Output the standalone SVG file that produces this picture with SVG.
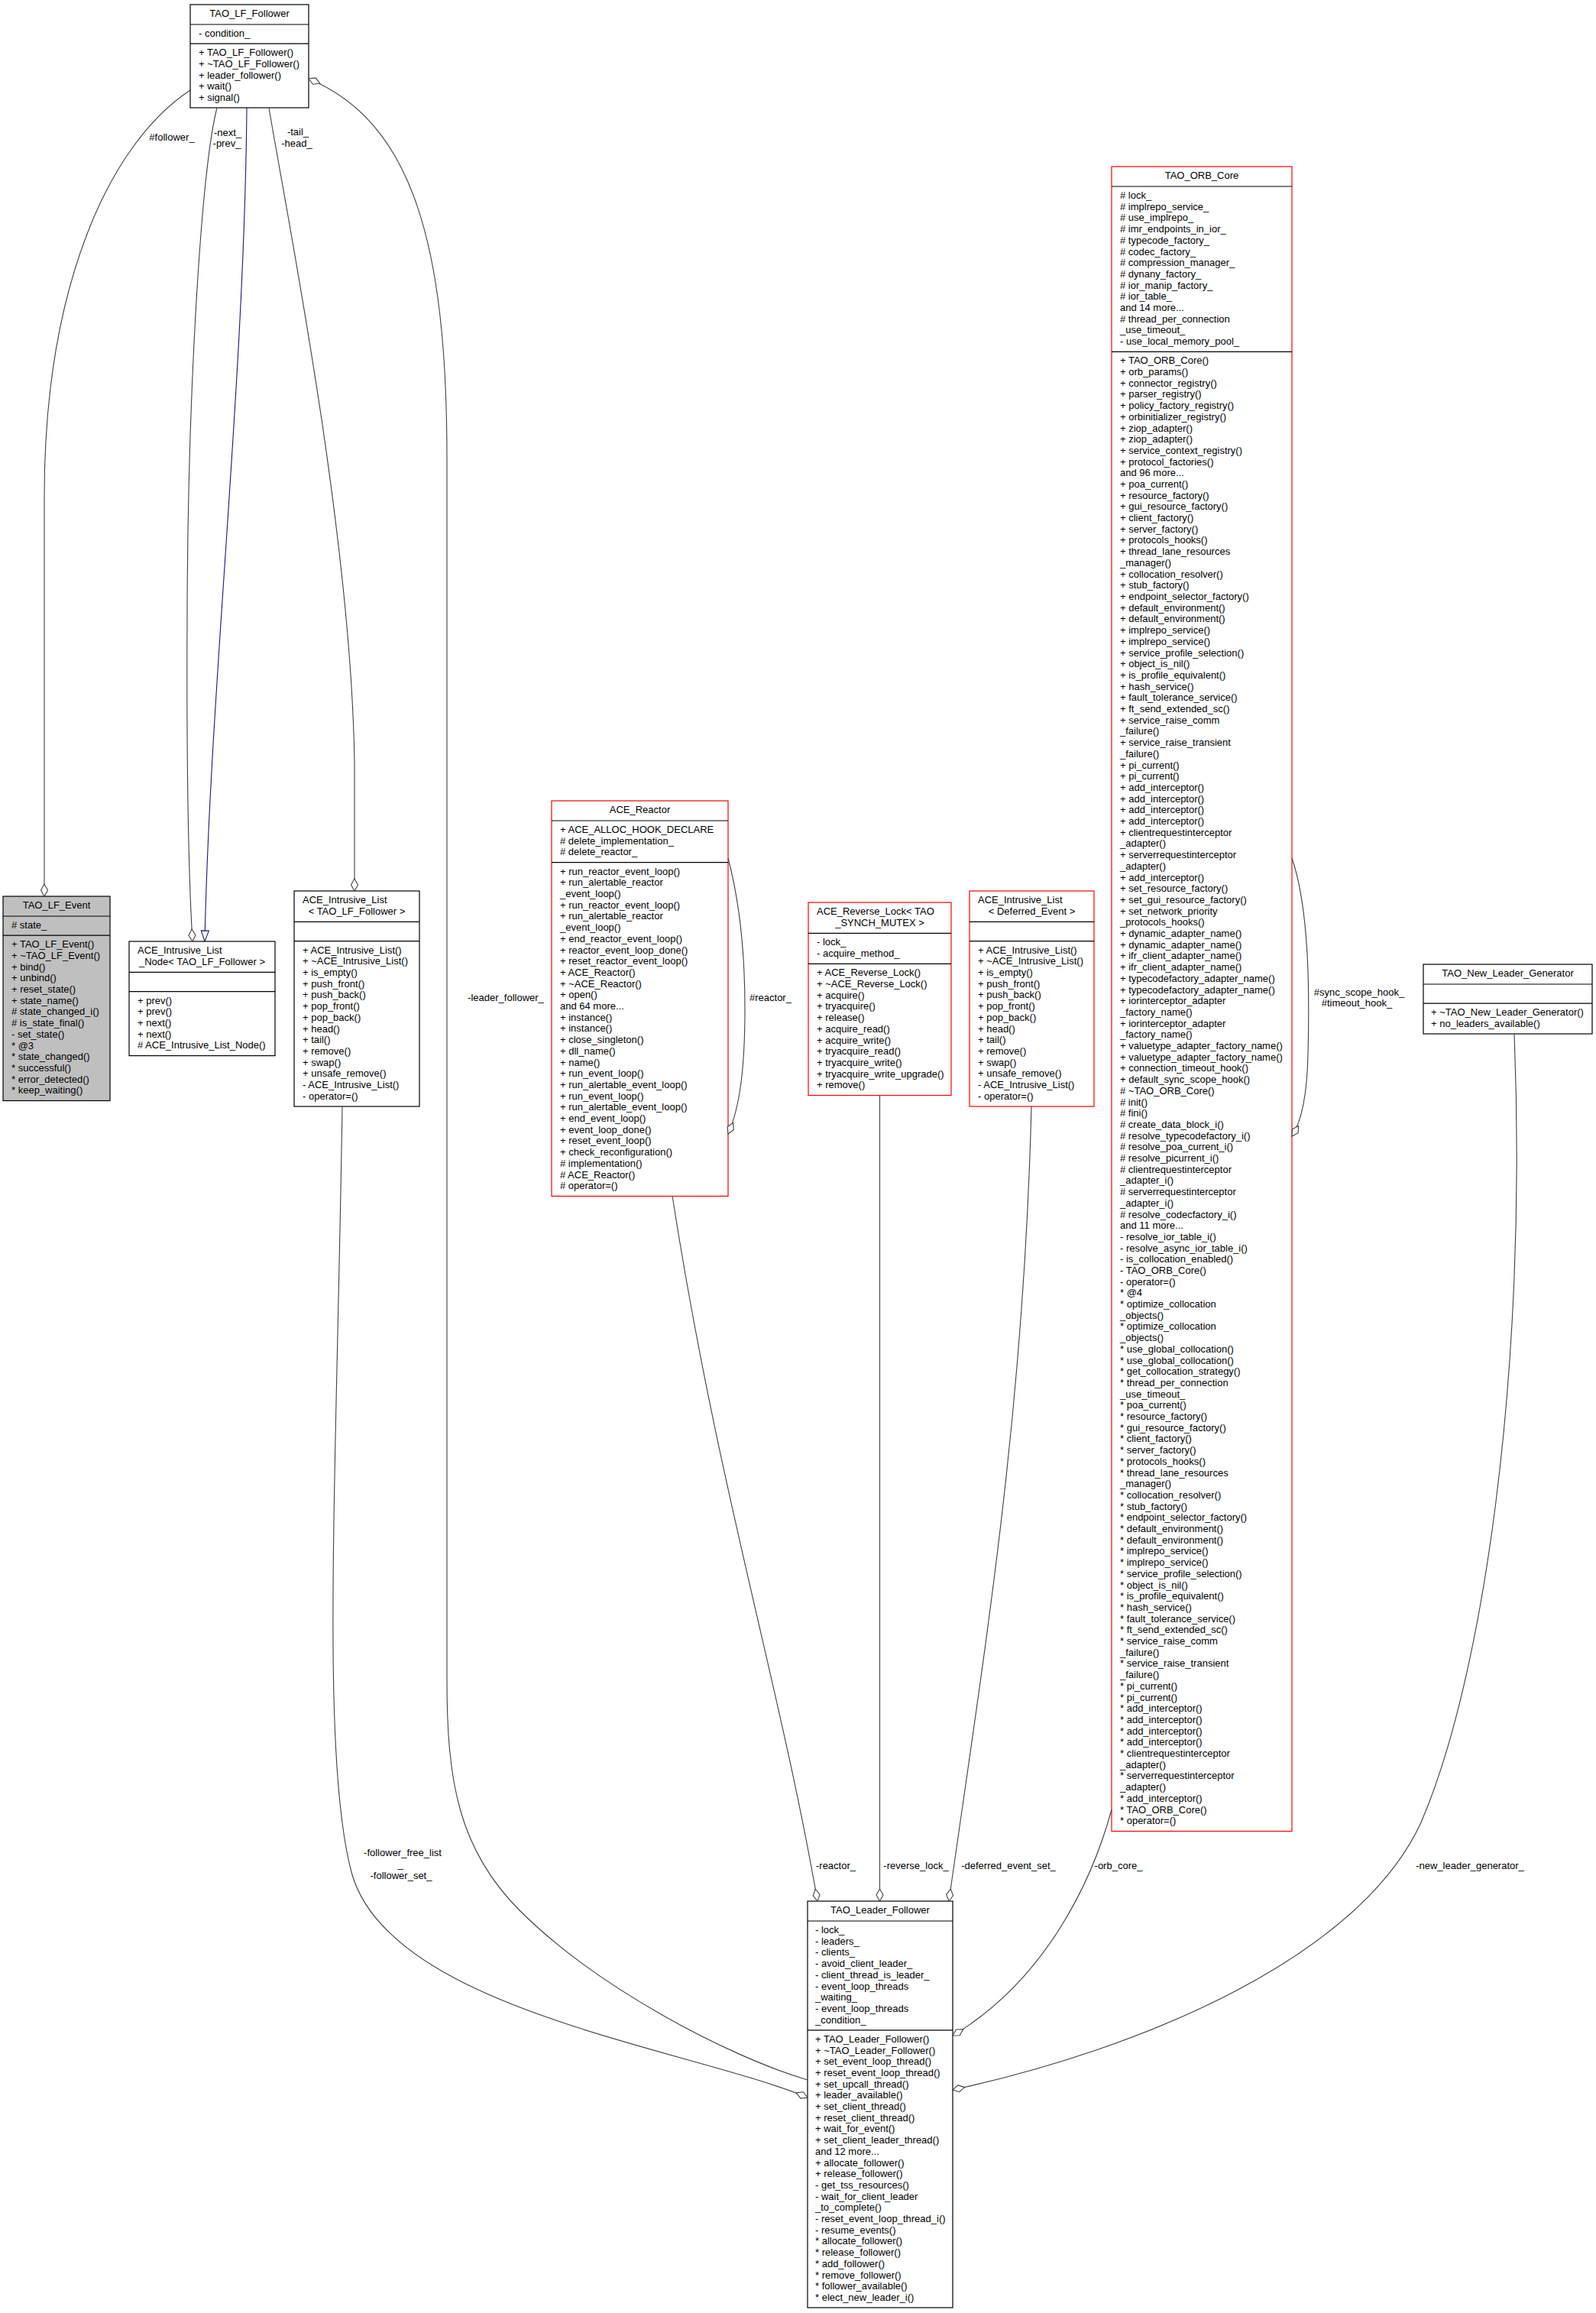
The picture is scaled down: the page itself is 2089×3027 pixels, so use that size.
<svg xmlns="http://www.w3.org/2000/svg" width="2089" height="3027" viewBox="0 0 2089 3027">
<style>
.t{font-family:"Liberation Sans",Arial,Helvetica,sans-serif;font-size:13px;fill:#000}
.c{text-anchor:middle}
.bx{fill:#fff;stroke:#000;stroke-width:1.2}
.gr{fill:#bfbfbf}
.rd{stroke:#ff0000}
.ln{fill:none;stroke:#000;stroke-width:1.2}
.e{fill:none;stroke:#404040;stroke-width:1.1}
.inh{fill:none;stroke:#191970;stroke-width:1.1}
</style>
<defs>
<marker id="dia" viewBox="0 0 18 12" markerWidth="18" markerHeight="12" refX="17" refY="6" orient="auto" markerUnits="userSpaceOnUse"><path d="M1,6 L9,1.5 L17,6 L9,10.5 Z" fill="#fff" stroke="#404040" stroke-width="1.1"/></marker>
<marker id="tri" viewBox="0 0 16 12" markerWidth="16" markerHeight="12" refX="15" refY="6" orient="auto" markerUnits="userSpaceOnUse"><path d="M1,1 L15,6 L1,11 Z" fill="#fff" stroke="#191970" stroke-width="1.1"/></marker>
</defs>
<rect x="0" y="0" width="2089" height="3027" fill="#fff"/>

<g id="TAO_LF_Follower">
<rect class="bx" x="249" y="6" width="155" height="135"/>
<path class="ln" d="M249,32H404M249,57.2H404"/>
<text class="t c" x="326.5" y="22">TAO_LF_Follower</text>
<text class="t" x="260" y="48">- condition_</text>
<text class="t" y="73.2"><tspan x="260">+ TAO_LF_Follower()</tspan><tspan x="260" dy="14.7">+ ~TAO_LF_Follower()</tspan><tspan x="260" dy="14.7">+ leader_follower()</tspan><tspan x="260" dy="14.7">+ wait()</tspan><tspan x="260" dy="14.7">+ signal()</tspan></text>
</g>

<g id="TAO_LF_Event">
<rect class="bx gr" x="4" y="1173" width="140" height="267.5"/>
<path class="ln" d="M4,1199H144M4,1224.2H144"/>
<text class="t c" x="74" y="1189">TAO_LF_Event</text>
<text class="t" x="15" y="1215">#&#160;state_</text>
<text class="t" y="1240.2"><tspan x="15">+ TAO_LF_Event()</tspan><tspan x="15" dy="14.7">+ ~TAO_LF_Event()</tspan><tspan x="15" dy="14.7">+ bind()</tspan><tspan x="15" dy="14.7">+ unbind()</tspan><tspan x="15" dy="14.7">+ reset_state()</tspan><tspan x="15" dy="14.7">+ state_name()</tspan><tspan x="15" dy="14.7"># state_changed_i()</tspan><tspan x="15" dy="14.7"># is_state_final()</tspan><tspan x="15" dy="14.7">- set_state()</tspan><tspan x="15" dy="14.7">* @3</tspan><tspan x="15" dy="14.7">* state_changed()</tspan><tspan x="15" dy="14.7">* successful()</tspan><tspan x="15" dy="14.7">* error_detected()</tspan><tspan x="15" dy="14.7">* keep_waiting()</tspan></text>
</g>

<g id="ACE_Intrusive_List_Node_TAO_LF_Follower">
<rect class="bx" x="169" y="1232" width="191" height="149.6"/>
<path class="ln" d="M169,1272.4H360M169,1297.6H360"/>
<text class="t" x="180" y="1248">ACE_Intrusive_List</text>
<text class="t c" x="264.5" y="1262.7">_Node&lt; TAO_LF_Follower &gt;</text>
<text class="t" y="1313.6"><tspan x="180">+ prev()</tspan><tspan x="180" dy="14.7">+ prev()</tspan><tspan x="180" dy="14.7">+ next()</tspan><tspan x="180" dy="14.7">+ next()</tspan><tspan x="180" dy="14.7"># ACE_Intrusive_List_Node()</tspan></text>
</g>

<g id="ACE_Intrusive_List_TAO_LF_Follower">
<rect class="bx" x="385" y="1166" width="164" height="282"/>
<path class="ln" d="M385,1206.4H549M385,1231.6H549"/>
<text class="t" x="396" y="1182">ACE_Intrusive_List</text>
<text class="t c" x="467" y="1196.7">&lt; TAO_LF_Follower &gt;</text>
<text class="t" y="1247.6"><tspan x="396">+ ACE_Intrusive_List()</tspan><tspan x="396" dy="14.7">+ ~ACE_Intrusive_List()</tspan><tspan x="396" dy="14.7">+ is_empty()</tspan><tspan x="396" dy="14.7">+ push_front()</tspan><tspan x="396" dy="14.7">+ push_back()</tspan><tspan x="396" dy="14.7">+ pop_front()</tspan><tspan x="396" dy="14.7">+ pop_back()</tspan><tspan x="396" dy="14.7">+ head()</tspan><tspan x="396" dy="14.7">+ tail()</tspan><tspan x="396" dy="14.7">+ remove()</tspan><tspan x="396" dy="14.7">+ swap()</tspan><tspan x="396" dy="14.7">+ unsafe_remove()</tspan><tspan x="396" dy="14.7">- ACE_Intrusive_List()</tspan><tspan x="396" dy="14.7">- operator=()</tspan></text>
</g>

<g id="ACE_Reactor">
<rect class="bx rd" x="722" y="1048" width="231" height="517.4"/>
<path class="ln rd" d="M722,1074H953M722,1128.6H953"/>
<text class="t c" x="837.5" y="1064">ACE_Reactor</text>
<text class="t" y="1090"><tspan x="733">+ ACE_ALLOC_HOOK_DECLARE</tspan><tspan x="733" dy="14.7"># delete_implementation_</tspan><tspan x="733" dy="14.7"># delete_reactor_</tspan></text>
<text class="t" y="1144.6"><tspan x="733">+ run_reactor_event_loop()</tspan><tspan x="733" dy="14.7">+ run_alertable_reactor</tspan><tspan x="733" dy="14.7">_event_loop()</tspan><tspan x="733" dy="14.7">+ run_reactor_event_loop()</tspan><tspan x="733" dy="14.7">+ run_alertable_reactor</tspan><tspan x="733" dy="14.7">_event_loop()</tspan><tspan x="733" dy="14.7">+ end_reactor_event_loop()</tspan><tspan x="733" dy="14.7">+ reactor_event_loop_done()</tspan><tspan x="733" dy="14.7">+ reset_reactor_event_loop()</tspan><tspan x="733" dy="14.7">+ ACE_Reactor()</tspan><tspan x="733" dy="14.7">+ ~ACE_Reactor()</tspan><tspan x="733" dy="14.7">+ open()</tspan><tspan x="733" dy="14.7">and 64 more...</tspan><tspan x="733" dy="14.7">+ instance()</tspan><tspan x="733" dy="14.7">+ instance()</tspan><tspan x="733" dy="14.7">+ close_singleton()</tspan><tspan x="733" dy="14.7">+ dll_name()</tspan><tspan x="733" dy="14.7">+ name()</tspan><tspan x="733" dy="14.7">+ run_event_loop()</tspan><tspan x="733" dy="14.7">+ run_alertable_event_loop()</tspan><tspan x="733" dy="14.7">+ run_event_loop()</tspan><tspan x="733" dy="14.7">+ run_alertable_event_loop()</tspan><tspan x="733" dy="14.7">+ end_event_loop()</tspan><tspan x="733" dy="14.7">+ event_loop_done()</tspan><tspan x="733" dy="14.7">+ reset_event_loop()</tspan><tspan x="733" dy="14.7">+ check_reconfiguration()</tspan><tspan x="733" dy="14.7"># implementation()</tspan><tspan x="733" dy="14.7"># ACE_Reactor()</tspan><tspan x="733" dy="14.7"># operator=()</tspan></text>
</g>

<g id="ACE_Reverse_Lock_TAO_SYNCH_MUTEX">
<rect class="bx rd" x="1058" y="1181" width="187" height="252.5"/>
<path class="ln rd" d="M1058,1221.4H1245M1058,1261.3H1245"/>
<text class="t" x="1069" y="1197">ACE_Reverse_Lock&lt; TAO</text>
<text class="t c" x="1151.5" y="1211.7">_SYNCH_MUTEX &gt;</text>
<text class="t" y="1237.4"><tspan x="1069">- lock_</tspan><tspan x="1069" dy="14.7">- acquire_method_</tspan></text>
<text class="t" y="1277.3"><tspan x="1069">+ ACE_Reverse_Lock()</tspan><tspan x="1069" dy="14.7">+ ~ACE_Reverse_Lock()</tspan><tspan x="1069" dy="14.7">+ acquire()</tspan><tspan x="1069" dy="14.7">+ tryacquire()</tspan><tspan x="1069" dy="14.7">+ release()</tspan><tspan x="1069" dy="14.7">+ acquire_read()</tspan><tspan x="1069" dy="14.7">+ acquire_write()</tspan><tspan x="1069" dy="14.7">+ tryacquire_read()</tspan><tspan x="1069" dy="14.7">+ tryacquire_write()</tspan><tspan x="1069" dy="14.7">+ tryacquire_write_upgrade()</tspan><tspan x="1069" dy="14.7">+ remove()</tspan></text>
</g>

<g id="ACE_Intrusive_List_Deferred_Event">
<rect class="bx rd" x="1269" y="1166" width="163" height="282"/>
<path class="ln rd" d="M1269,1206.4H1432M1269,1231.6H1432"/>
<text class="t" x="1280" y="1182">ACE_Intrusive_List</text>
<text class="t c" x="1350.5" y="1196.7">&lt; Deferred_Event &gt;</text>
<text class="t" y="1247.6"><tspan x="1280">+ ACE_Intrusive_List()</tspan><tspan x="1280" dy="14.7">+ ~ACE_Intrusive_List()</tspan><tspan x="1280" dy="14.7">+ is_empty()</tspan><tspan x="1280" dy="14.7">+ push_front()</tspan><tspan x="1280" dy="14.7">+ push_back()</tspan><tspan x="1280" dy="14.7">+ pop_front()</tspan><tspan x="1280" dy="14.7">+ pop_back()</tspan><tspan x="1280" dy="14.7">+ head()</tspan><tspan x="1280" dy="14.7">+ tail()</tspan><tspan x="1280" dy="14.7">+ remove()</tspan><tspan x="1280" dy="14.7">+ swap()</tspan><tspan x="1280" dy="14.7">+ unsafe_remove()</tspan><tspan x="1280" dy="14.7">- ACE_Intrusive_List()</tspan><tspan x="1280" dy="14.7">- operator=()</tspan></text>
</g>

<g id="TAO_ORB_Core">
<rect class="bx rd" x="1455" y="218" width="236" height="2178.5"/>
<path class="ln rd" d="M1455,244H1691M1455,460.3H1691"/>
<text class="t c" x="1573" y="234">TAO_ORB_Core</text>
<text class="t" y="260"><tspan x="1466"># lock_</tspan><tspan x="1466" dy="14.7"># implrepo_service_</tspan><tspan x="1466" dy="14.7"># use_implrepo_</tspan><tspan x="1466" dy="14.7"># imr_endpoints_in_ior_</tspan><tspan x="1466" dy="14.7"># typecode_factory_</tspan><tspan x="1466" dy="14.7"># codec_factory_</tspan><tspan x="1466" dy="14.7"># compression_manager_</tspan><tspan x="1466" dy="14.7"># dynany_factory_</tspan><tspan x="1466" dy="14.7"># ior_manip_factory_</tspan><tspan x="1466" dy="14.7"># ior_table_</tspan><tspan x="1466" dy="14.7">and 14 more...</tspan><tspan x="1466" dy="14.7"># thread_per_connection</tspan><tspan x="1466" dy="14.7">_use_timeout_</tspan><tspan x="1466" dy="14.7">- use_local_memory_pool_</tspan></text>
<text class="t" y="476.3"><tspan x="1466">+ TAO_ORB_Core()</tspan><tspan x="1466" dy="14.7">+ orb_params()</tspan><tspan x="1466" dy="14.7">+ connector_registry()</tspan><tspan x="1466" dy="14.7">+ parser_registry()</tspan><tspan x="1466" dy="14.7">+ policy_factory_registry()</tspan><tspan x="1466" dy="14.7">+ orbinitializer_registry()</tspan><tspan x="1466" dy="14.7">+ ziop_adapter()</tspan><tspan x="1466" dy="14.7">+ ziop_adapter()</tspan><tspan x="1466" dy="14.7">+ service_context_registry()</tspan><tspan x="1466" dy="14.7">+ protocol_factories()</tspan><tspan x="1466" dy="14.7">and 96 more...</tspan><tspan x="1466" dy="14.7">+ poa_current()</tspan><tspan x="1466" dy="14.7">+ resource_factory()</tspan><tspan x="1466" dy="14.7">+ gui_resource_factory()</tspan><tspan x="1466" dy="14.7">+ client_factory()</tspan><tspan x="1466" dy="14.7">+ server_factory()</tspan><tspan x="1466" dy="14.7">+ protocols_hooks()</tspan><tspan x="1466" dy="14.7">+ thread_lane_resources</tspan><tspan x="1466" dy="14.7">_manager()</tspan><tspan x="1466" dy="14.7">+ collocation_resolver()</tspan><tspan x="1466" dy="14.7">+ stub_factory()</tspan><tspan x="1466" dy="14.7">+ endpoint_selector_factory()</tspan><tspan x="1466" dy="14.7">+ default_environment()</tspan><tspan x="1466" dy="14.7">+ default_environment()</tspan><tspan x="1466" dy="14.7">+ implrepo_service()</tspan><tspan x="1466" dy="14.7">+ implrepo_service()</tspan><tspan x="1466" dy="14.7">+ service_profile_selection()</tspan><tspan x="1466" dy="14.7">+ object_is_nil()</tspan><tspan x="1466" dy="14.7">+ is_profile_equivalent()</tspan><tspan x="1466" dy="14.7">+ hash_service()</tspan><tspan x="1466" dy="14.7">+ fault_tolerance_service()</tspan><tspan x="1466" dy="14.7">+ ft_send_extended_sc()</tspan><tspan x="1466" dy="14.7">+ service_raise_comm</tspan><tspan x="1466" dy="14.7">_failure()</tspan><tspan x="1466" dy="14.7">+ service_raise_transient</tspan><tspan x="1466" dy="14.7">_failure()</tspan><tspan x="1466" dy="14.7">+ pi_current()</tspan><tspan x="1466" dy="14.7">+ pi_current()</tspan><tspan x="1466" dy="14.7">+ add_interceptor()</tspan><tspan x="1466" dy="14.7">+ add_interceptor()</tspan><tspan x="1466" dy="14.7">+ add_interceptor()</tspan><tspan x="1466" dy="14.7">+ add_interceptor()</tspan><tspan x="1466" dy="14.7">+ clientrequestinterceptor</tspan><tspan x="1466" dy="14.7">_adapter()</tspan><tspan x="1466" dy="14.7">+ serverrequestinterceptor</tspan><tspan x="1466" dy="14.7">_adapter()</tspan><tspan x="1466" dy="14.7">+ add_interceptor()</tspan><tspan x="1466" dy="14.7">+ set_resource_factory()</tspan><tspan x="1466" dy="14.7">+ set_gui_resource_factory()</tspan><tspan x="1466" dy="14.7">+ set_network_priority</tspan><tspan x="1466" dy="14.7">_protocols_hooks()</tspan><tspan x="1466" dy="14.7">+ dynamic_adapter_name()</tspan><tspan x="1466" dy="14.7">+ dynamic_adapter_name()</tspan><tspan x="1466" dy="14.7">+ ifr_client_adapter_name()</tspan><tspan x="1466" dy="14.7">+ ifr_client_adapter_name()</tspan><tspan x="1466" dy="14.7">+ typecodefactory_adapter_name()</tspan><tspan x="1466" dy="14.7">+ typecodefactory_adapter_name()</tspan><tspan x="1466" dy="14.7">+ iorinterceptor_adapter</tspan><tspan x="1466" dy="14.7">_factory_name()</tspan><tspan x="1466" dy="14.7">+ iorinterceptor_adapter</tspan><tspan x="1466" dy="14.7">_factory_name()</tspan><tspan x="1466" dy="14.7">+ valuetype_adapter_factory_name()</tspan><tspan x="1466" dy="14.7">+ valuetype_adapter_factory_name()</tspan><tspan x="1466" dy="14.7">+ connection_timeout_hook()</tspan><tspan x="1466" dy="14.7">+ default_sync_scope_hook()</tspan><tspan x="1466" dy="14.7"># ~TAO_ORB_Core()</tspan><tspan x="1466" dy="14.7"># init()</tspan><tspan x="1466" dy="14.7"># fini()</tspan><tspan x="1466" dy="14.7"># create_data_block_i()</tspan><tspan x="1466" dy="14.7"># resolve_typecodefactory_i()</tspan><tspan x="1466" dy="14.7"># resolve_poa_current_i()</tspan><tspan x="1466" dy="14.7"># resolve_picurrent_i()</tspan><tspan x="1466" dy="14.7"># clientrequestinterceptor</tspan><tspan x="1466" dy="14.7">_adapter_i()</tspan><tspan x="1466" dy="14.7"># serverrequestinterceptor</tspan><tspan x="1466" dy="14.7">_adapter_i()</tspan><tspan x="1466" dy="14.7"># resolve_codecfactory_i()</tspan><tspan x="1466" dy="14.7">and 11 more...</tspan><tspan x="1466" dy="14.7">- resolve_ior_table_i()</tspan><tspan x="1466" dy="14.7">- resolve_async_ior_table_i()</tspan><tspan x="1466" dy="14.7">- is_collocation_enabled()</tspan><tspan x="1466" dy="14.7">- TAO_ORB_Core()</tspan><tspan x="1466" dy="14.7">- operator=()</tspan><tspan x="1466" dy="14.7">* @4</tspan><tspan x="1466" dy="14.7">* optimize_collocation</tspan><tspan x="1466" dy="14.7">_objects()</tspan><tspan x="1466" dy="14.7">* optimize_collocation</tspan><tspan x="1466" dy="14.7">_objects()</tspan><tspan x="1466" dy="14.7">* use_global_collocation()</tspan><tspan x="1466" dy="14.7">* use_global_collocation()</tspan><tspan x="1466" dy="14.7">* get_collocation_strategy()</tspan><tspan x="1466" dy="14.7">* thread_per_connection</tspan><tspan x="1466" dy="14.7">_use_timeout_</tspan><tspan x="1466" dy="14.7">* poa_current()</tspan><tspan x="1466" dy="14.7">* resource_factory()</tspan><tspan x="1466" dy="14.7">* gui_resource_factory()</tspan><tspan x="1466" dy="14.7">* client_factory()</tspan><tspan x="1466" dy="14.7">* server_factory()</tspan><tspan x="1466" dy="14.7">* protocols_hooks()</tspan><tspan x="1466" dy="14.7">* thread_lane_resources</tspan><tspan x="1466" dy="14.7">_manager()</tspan><tspan x="1466" dy="14.7">* collocation_resolver()</tspan><tspan x="1466" dy="14.7">* stub_factory()</tspan><tspan x="1466" dy="14.7">* endpoint_selector_factory()</tspan><tspan x="1466" dy="14.7">* default_environment()</tspan><tspan x="1466" dy="14.7">* default_environment()</tspan><tspan x="1466" dy="14.7">* implrepo_service()</tspan><tspan x="1466" dy="14.7">* implrepo_service()</tspan><tspan x="1466" dy="14.7">* service_profile_selection()</tspan><tspan x="1466" dy="14.7">* object_is_nil()</tspan><tspan x="1466" dy="14.7">* is_profile_equivalent()</tspan><tspan x="1466" dy="14.7">* hash_service()</tspan><tspan x="1466" dy="14.7">* fault_tolerance_service()</tspan><tspan x="1466" dy="14.7">* ft_send_extended_sc()</tspan><tspan x="1466" dy="14.7">* service_raise_comm</tspan><tspan x="1466" dy="14.7">_failure()</tspan><tspan x="1466" dy="14.7">* service_raise_transient</tspan><tspan x="1466" dy="14.7">_failure()</tspan><tspan x="1466" dy="14.7">* pi_current()</tspan><tspan x="1466" dy="14.7">* pi_current()</tspan><tspan x="1466" dy="14.7">* add_interceptor()</tspan><tspan x="1466" dy="14.7">* add_interceptor()</tspan><tspan x="1466" dy="14.7">* add_interceptor()</tspan><tspan x="1466" dy="14.7">* add_interceptor()</tspan><tspan x="1466" dy="14.7">* clientrequestinterceptor</tspan><tspan x="1466" dy="14.7">_adapter()</tspan><tspan x="1466" dy="14.7">* serverrequestinterceptor</tspan><tspan x="1466" dy="14.7">_adapter()</tspan><tspan x="1466" dy="14.7">* add_interceptor()</tspan><tspan x="1466" dy="14.7">* TAO_ORB_Core()</tspan><tspan x="1466" dy="14.7">* operator=()</tspan></text>
</g>

<g id="TAO_New_Leader_Generator">
<rect class="bx" x="1863" y="1262" width="221" height="91"/>
<path class="ln" d="M1863,1288H2084M1863,1313.2H2084"/>
<text class="t c" x="1973.5" y="1278">TAO_New_Leader_Generator</text>
<text class="t" y="1329.2"><tspan x="1873">+ ~TAO_New_Leader_Generator()</tspan><tspan x="1873" dy="14.7">+ no_leaders_available()</tspan></text>
</g>

<g id="TAO_Leader_Follower">
<rect class="bx" x="1057" y="2488" width="190" height="532"/>
<path class="ln" d="M1057,2514H1247M1057,2656.8H1247"/>
<text class="t c" x="1152" y="2504">TAO_Leader_Follower</text>
<text class="t" y="2530"><tspan x="1067">- lock_</tspan><tspan x="1067" dy="14.7">- leaders_</tspan><tspan x="1067" dy="14.7">- clients_</tspan><tspan x="1067" dy="14.7">- avoid_client_leader_</tspan><tspan x="1067" dy="14.7">- client_thread_is_leader_</tspan><tspan x="1067" dy="14.7">- event_loop_threads</tspan><tspan x="1067" dy="14.7">_waiting_</tspan><tspan x="1067" dy="14.7">- event_loop_threads</tspan><tspan x="1067" dy="14.7">_condition_</tspan></text>
<text class="t" y="2672.8"><tspan x="1067">+ TAO_Leader_Follower()</tspan><tspan x="1067" dy="14.7">+ ~TAO_Leader_Follower()</tspan><tspan x="1067" dy="14.7">+ set_event_loop_thread()</tspan><tspan x="1067" dy="14.7">+ reset_event_loop_thread()</tspan><tspan x="1067" dy="14.7">+ set_upcall_thread()</tspan><tspan x="1067" dy="14.7">+ leader_available()</tspan><tspan x="1067" dy="14.7">+ set_client_thread()</tspan><tspan x="1067" dy="14.7">+ reset_client_thread()</tspan><tspan x="1067" dy="14.7">+ wait_for_event()</tspan><tspan x="1067" dy="14.7">+ set_client_leader_thread()</tspan><tspan x="1067" dy="14.7">and 12 more...</tspan><tspan x="1067" dy="14.7">+ allocate_follower()</tspan><tspan x="1067" dy="14.7">+ release_follower()</tspan><tspan x="1067" dy="14.7">- get_tss_resources()</tspan><tspan x="1067" dy="14.7">- wait_for_client_leader</tspan><tspan x="1067" dy="14.7">_to_complete()</tspan><tspan x="1067" dy="14.7">- reset_event_loop_thread_i()</tspan><tspan x="1067" dy="14.7">- resume_events()</tspan><tspan x="1067" dy="14.7">* allocate_follower()</tspan><tspan x="1067" dy="14.7">* release_follower()</tspan><tspan x="1067" dy="14.7">* add_follower()</tspan><tspan x="1067" dy="14.7">* remove_follower()</tspan><tspan x="1067" dy="14.7">* follower_available()</tspan><tspan x="1067" dy="14.7">* elect_new_leader_i()</tspan></text>
</g>

<g id="connectors">
<path class="e" marker-end="url(#dia)" d="M249,118 C140,190 58,380 58,650 L58,1173"/>
<text class="t c" x="225" y="184">#follower_</text>
<path class="e" marker-end="url(#dia)" d="M284,141 C264,220 246,500 245,800 C244,1000 247,1150 252,1232"/>
<text class="t c" x="298" y="177.5">-next_</text>
<text class="t c" x="297" y="192">-prev_</text>
<path class="inh" marker-end="url(#tri)" d="M323,141 C320,500 275,900 268,1232"/>
<path class="e" marker-end="url(#dia)" d="M352,141 C375,280 460,700 464,1000 L464,1166"/>
<text class="t c" x="390" y="177">-tail_</text>
<text class="t c" x="388.5" y="191.5">-head_</text>
<path class="e" marker-end="url(#dia)" d="M1057,2722 C950,2690 780,2600 680,2500 C600,2420 585,2330 585,2200 L585,600 C585,320 540,160 404,103"/>
<text class="t c" x="662" y="1310">-leader_follower_</text>
<path class="e" marker-end="url(#dia)" d="M448,1448 C440,1950 420,2300 460,2450 C508,2630 900,2680 1057,2745"/>
<text class="t c" x="527" y="2429">-follower_free_list</text>
<text class="t c" x="524" y="2444">_</text>
<text class="t c" x="525" y="2459">-follower_set_</text>
<path class="e" marker-end="url(#dia)" d="M953,1123 C968,1180 975,1250 975,1320 C975,1400 968,1450 953,1484"/>
<text class="t" x="981" y="1310">#reactor_</text>
<path class="e" marker-end="url(#dia)" d="M880,1565 C940,1950 1020,2200 1070,2488"/>
<text class="t c" x="1094" y="2446">-reactor_</text>
<path class="e" marker-end="url(#dia)" d="M1151.5,1433.5 L1151.5,2488"/>
<text class="t c" x="1199" y="2446">-reverse_lock_</text>
<path class="e" marker-end="url(#dia)" d="M1350,1448 C1340,1850 1290,2150 1242,2488"/>
<text class="t c" x="1320" y="2446">-deferred_event_set_</text>
<path class="e" marker-end="url(#dia)" d="M1455,2368 C1430,2460 1370,2590 1247,2664"/>
<text class="t c" x="1464" y="2446">-orb_core_</text>
<path class="e" marker-end="url(#dia)" d="M1691,1123 C1714,1190 1714,1300 1712,1380 C1711,1430 1705,1465 1691,1487"/>
<text class="t c" x="1779" y="1303">#sync_scope_hook_</text>
<text class="t c" x="1776" y="1317">#timeout_hook_</text>
<path class="e" marker-end="url(#dia)" d="M1982,1353 C2000,1800 1940,2200 1860,2385 C1780,2560 1500,2680 1247,2735"/>
<text class="t c" x="1924" y="2446">-new_leader_generator_</text>
</g>
</svg>
